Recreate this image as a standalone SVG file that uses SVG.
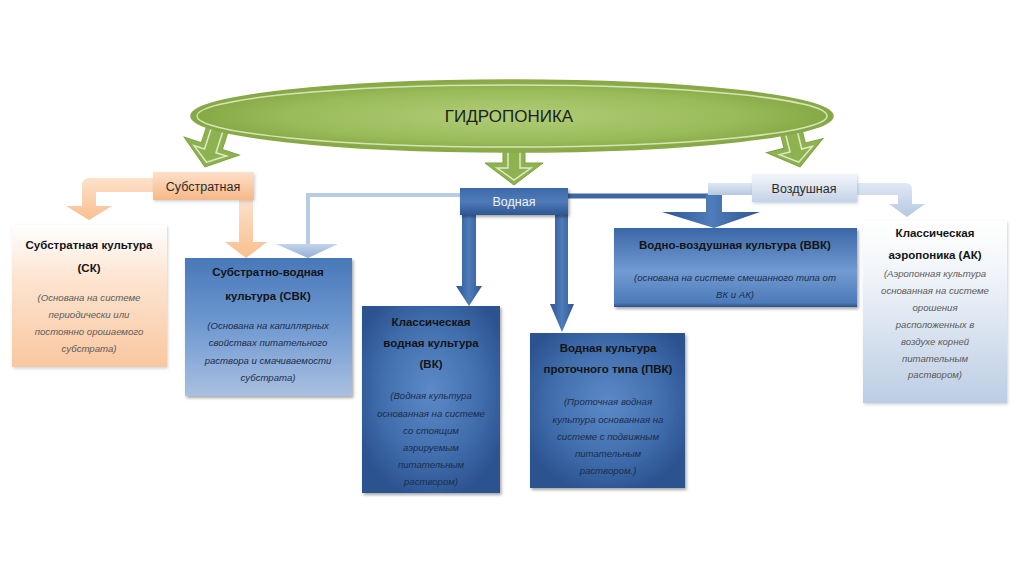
<svg xmlns="http://www.w3.org/2000/svg" width="1024" height="565" viewBox="0 0 1024 565">
<defs>
<style>
.t{font-family:"Liberation Sans",Arial,sans-serif;text-anchor:middle}
.b{font-weight:bold;font-size:11.5px;fill:#141414}
.i{font-style:italic;font-size:9.6px}
.ig{fill:#5a5a5a}
.ib{fill:#1c2c4c}
.lbl{font-size:12.5px;fill:#2a2a2a}
.lblw{font-size:12.5px;fill:#ffffff}
.garrow{fill:#8fb250;stroke:#7fa043;stroke-width:1}
.ginner{fill:none;stroke:#dfeac8;stroke-width:1.5}
</style>
<radialGradient id="gEll" cx="0.5" cy="0.5" r="0.5">
<stop offset="0" stop-color="#b1cd77"/><stop offset="0.7" stop-color="#9abb5a"/><stop offset="1" stop-color="#85a744"/>
</radialGradient>
<linearGradient id="gPeach" x1="0" y1="0" x2="0" y2="1">
<stop offset="0" stop-color="#ffffff"/><stop offset="0.35" stop-color="#fde6d4"/><stop offset="1" stop-color="#f9c79f"/>
</linearGradient>
<linearGradient id="gPeachBox" x1="0" y1="0" x2="0" y2="1">
<stop offset="0" stop-color="#fde0c9"/><stop offset="1" stop-color="#f6b887"/>
</linearGradient>
<linearGradient id="gPeachArr" x1="0" y1="0" x2="0" y2="1">
<stop offset="0" stop-color="#fde2cc"/><stop offset="1" stop-color="#f8bf8f"/>
</linearGradient>
<linearGradient id="gSVK" x1="0" y1="0" x2="0" y2="1">
<stop offset="0" stop-color="#4977b8"/><stop offset="0.45" stop-color="#6b96cf"/><stop offset="1" stop-color="#a9c0e1"/>
</linearGradient>
<radialGradient id="gDark" cx="0.5" cy="0.45" r="0.6">
<stop offset="0" stop-color="#5d8ac7"/><stop offset="0.6" stop-color="#416ead"/><stop offset="1" stop-color="#2b528f"/>
</radialGradient>
<linearGradient id="gVVK" x1="0" y1="0" x2="0" y2="1">
<stop offset="0" stop-color="#3b67a8"/><stop offset="0.55" stop-color="#719bd1"/><stop offset="0.95" stop-color="#4d7aba"/><stop offset="1" stop-color="#2c4f85"/>
</linearGradient>
<linearGradient id="gVod" x1="0" y1="0" x2="0" y2="1">
<stop offset="0" stop-color="#3d69a8"/><stop offset="0.5" stop-color="#4e7bb9"/><stop offset="1" stop-color="#2e5692"/>
</linearGradient>
<linearGradient id="gAir" x1="0" y1="0" x2="0" y2="1">
<stop offset="0" stop-color="#ffffff"/><stop offset="0.3" stop-color="#f0f4f9"/><stop offset="1" stop-color="#bccde4"/>
</linearGradient>
<linearGradient id="gAirBox" x1="0" y1="0" x2="0" y2="1">
<stop offset="0" stop-color="#f3f6fb"/><stop offset="1" stop-color="#c3d2e7"/>
</linearGradient>
<linearGradient id="gLight" x1="0" y1="0" x2="0" y2="1">
<stop offset="0" stop-color="#dfe8f4"/><stop offset="1" stop-color="#b5c8e2"/>
</linearGradient>
<linearGradient id="gLightHead" x1="0" y1="0" x2="0" y2="1">
<stop offset="0" stop-color="#c3d4ea"/><stop offset="1" stop-color="#93afd6"/>
</linearGradient>
<linearGradient id="gDarkArr" x1="0" y1="0" x2="1" y2="0">
<stop offset="0" stop-color="#2e5692"/><stop offset="0.5" stop-color="#4f7cba"/><stop offset="1" stop-color="#2e5692"/>
</linearGradient>
<filter id="sh" x="-10%" y="-10%" width="125%" height="125%">
<feDropShadow dx="1.5" dy="2" stdDeviation="1.5" flood-color="#000" flood-opacity="0.35"/>
</filter>
<filter id="shl" x="-10%" y="-10%" width="125%" height="125%">
<feDropShadow dx="1" dy="1.5" stdDeviation="1.5" flood-color="#6b7f99" flood-opacity="0.35"/>
</filter>
</defs>
<rect width="1024" height="565" fill="#ffffff"/>

<g id="connectors">
<g transform="translate(205,167) rotate(18)">
<path class="garrow" d="M-11,-48 L11,-48 L11,-22 L29,-22 L0,0 L-29,-22 L-11,-22 Z"/>
<path class="ginner" d="M-6,-44 L6,-44 L6,-17 L17,-17 L0,-5 L-17,-17 L-6,-17 Z"/>
</g>
<g transform="translate(514,185)">
<path class="garrow" d="M-11,-48 L11,-48 L11,-22 L29,-22 L0,0 L-29,-22 L-11,-22 Z"/>
<path class="ginner" d="M-6,-44 L6,-44 L6,-17 L17,-17 L0,-5 L-17,-17 L-6,-17 Z"/>
</g>
<g transform="translate(800,167) rotate(-14)">
<path class="garrow" d="M-11,-48 L11,-48 L11,-22 L29,-22 L0,0 L-29,-22 L-11,-22 Z"/>
<path class="ginner" d="M-6,-44 L6,-44 L6,-17 L17,-17 L0,-5 L-17,-17 L-6,-17 Z"/>
</g>
<path d="M155,178 L90,178 Q82,178 82,186 L82,206 L66,206 L89,220 L112,206 L96,206 L96,192 L155,192 Z" fill="url(#gPeachArr)"/>
<path d="M239,198 L253,198 L253,242 L267,242 L246,258 L225,242 L239,242 Z" fill="url(#gPeachArr)"/>
<path d="M461,195 L308,195 L308,245" fill="none" stroke="#b7cbe4" stroke-width="4"/>
<path d="M276,244 L338,244 L308,258 Z" fill="url(#gLightHead)"/>
<path d="M462,214 L476,214 L476,286 L482,286 L469,306 L456,286 L462,286 Z" fill="url(#gDarkArr)"/>
<path d="M555,214 L568,214 L568,304 L574,304 L562,332 L550,304 L555,304 Z" fill="url(#gDarkArr)"/>
<path d="M566,196 L714,196" fill="none" stroke="#3c67a4" stroke-width="5"/>
<path d="M706,194 L722,194 L722,212 L760,212 L714,228 L662,212 L706,212 Z" fill="url(#gDarkArr)"/>
<path d="M708,183 L754,183 L754,195 L708,195 Z" fill="url(#gLight)"/>
<path d="M855,183 L905,183 Q912,183 912,190 L912,204 L925,204 L907,217 L889,204 L898,204 L898,195 L855,195 Z" fill="url(#gLight)"/>
</g>

<g id="hydroponics">
<ellipse cx="512" cy="116" rx="321" ry="36" fill="url(#gEll)" stroke="#88a947" stroke-width="1.5"/>
<ellipse cx="512" cy="116" rx="315" ry="31" fill="none" stroke="#d5e4b5" stroke-width="1.5"/>
<text class="t" x="509" y="122" style="font-size:17px;fill:#1e1e1e">ГИДРОПОНИКА</text>
</g>

<g id="substratnaya">
<rect x="153" y="172" width="101" height="28" fill="url(#gPeachBox)" filter="url(#shl)"/>
<text class="t lbl" x="203" y="191">Субстратная</text>
</g>

<g id="vodnaya">
<rect x="460" y="188" width="108" height="27" fill="url(#gVod)" filter="url(#sh)"/>
<text class="t lblw" x="514" y="206" style="fill:#eef3fa">Водная</text>
</g>

<g id="vozdushnaya">
<rect x="752" y="174" width="105" height="28" fill="url(#gAirBox)" filter="url(#shl)"/>
<text class="t lbl" x="804" y="193">Воздушная</text>
</g>

<g id="sk">
<rect x="12" y="225" width="155" height="142" fill="url(#gPeach)" filter="url(#shl)"/>
<text class="t b" x="89" y="249">Субстратная культура</text>
<text class="t b" x="89" y="272">(СК)</text>
<text class="t i ig" x="89" y="301">(Основана на системе</text>
<text class="t i ig" x="89" y="318">периодически или</text>
<text class="t i ig" x="89" y="335">постоянно орошаемого</text>
<text class="t i ig" x="89" y="352">субстрата)</text>
</g>

<g id="svk">
<rect x="185" y="258" width="167" height="138" fill="url(#gSVK)" filter="url(#sh)"/>
<text class="t b" x="268" y="276">Субстратно-водная</text>
<text class="t b" x="268" y="300">культура (СВК)</text>
<text class="t i ib" x="268" y="329">(Основана на капиллярных</text>
<text class="t i ib" x="268" y="346">свойствах питательного</text>
<text class="t i ib" x="268" y="364">раствора и смачиваемости</text>
<text class="t i ib" x="268" y="381">субстрата)</text>
</g>

<g id="vk">
<rect x="362" y="306" width="138" height="187" fill="url(#gDark)" filter="url(#sh)"/>
<text class="t b" x="431" y="326">Классическая</text>
<text class="t b" x="431" y="347">водная культура</text>
<text class="t b" x="431" y="368">(ВК)</text>
<text class="t i ib" x="431" y="399">(Водная культура</text>
<text class="t i ib" x="431" y="417">основанная на системе</text>
<text class="t i ib" x="431" y="434">со стоящим</text>
<text class="t i ib" x="431" y="451">аэрируемым</text>
<text class="t i ib" x="431" y="468">питательным</text>
<text class="t i ib" x="431" y="485">раствором)</text>
</g>

<g id="pvk">
<rect x="530" y="333" width="155" height="155" fill="url(#gDark)" filter="url(#sh)"/>
<text class="t b" x="608" y="352">Водная культура</text>
<text class="t b" x="608" y="373">проточного типа (ПВК)</text>
<text class="t i ib" x="608" y="405">(Проточная водная</text>
<text class="t i ib" x="608" y="423">культура основанная на</text>
<text class="t i ib" x="608" y="440">системе с подвижным</text>
<text class="t i ib" x="608" y="457">питательным</text>
<text class="t i ib" x="608" y="474">раствором.)</text>
</g>

<g id="vvk">
<rect x="614" y="228" width="243" height="79" fill="url(#gVVK)" filter="url(#sh)"/>
<text class="t b" x="735" y="249">Водно-воздушная культура (ВВК)</text>
<text class="t i ib" x="735" y="281">(основана на системе  смешанного  типа от</text>
<text class="t i ib" x="735" y="298">ВК и АК)</text>
</g>

<g id="ak">
<rect x="863" y="221" width="144" height="182" fill="url(#gAir)" filter="url(#shl)"/>
<text class="t b" x="935" y="237">Классическая</text>
<text class="t b" x="935" y="259">аэропоника (АК)</text>
<text class="t i ig" x="935" y="277">(Аэропонная культура</text>
<text class="t i ig" x="935" y="294">основанная на системе</text>
<text class="t i ig" x="935" y="311">орошения</text>
<text class="t i ig" x="935" y="328">расположенных в</text>
<text class="t i ig" x="935" y="345">воздухе корней</text>
<text class="t i ig" x="935" y="362">питательным</text>
<text class="t i ig" x="935" y="378">раствором)</text>
</g>
</svg>
